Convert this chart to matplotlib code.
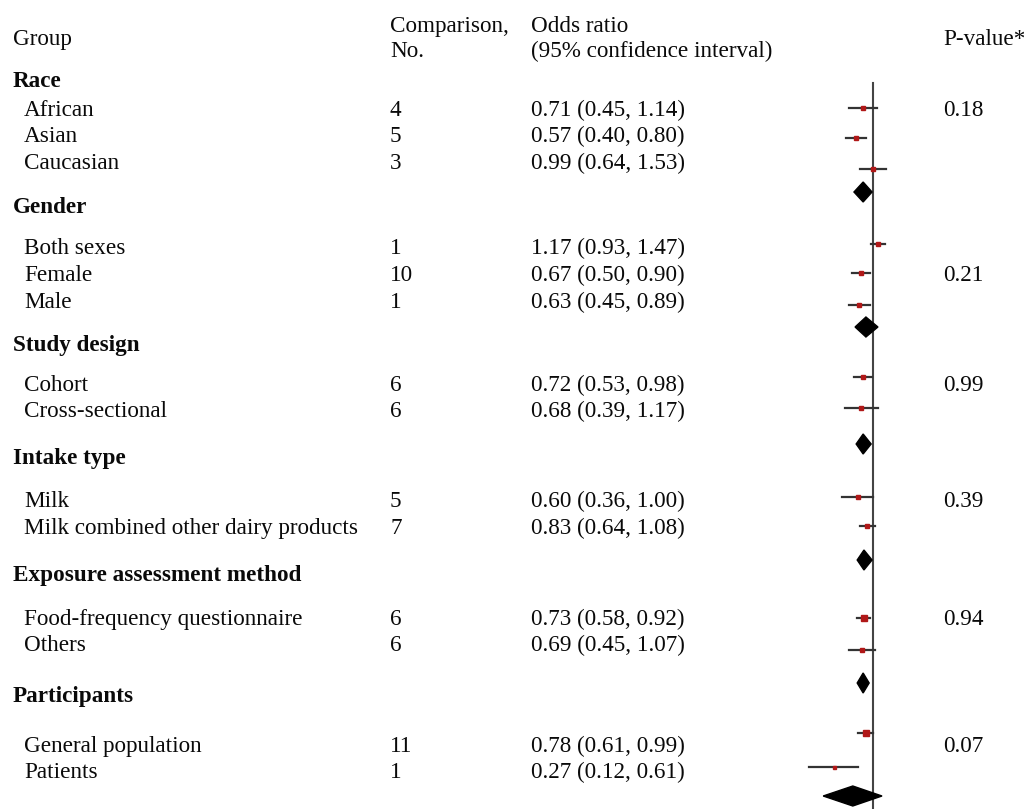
import numpy as np
import matplotlib
matplotlib.use("Agg")
import matplotlib.pyplot as plt
from matplotlib.patches import Polygon

plt.rcParams['font.family'] = ['Liberation Serif', 'DejaVu Serif']

groups = ["Race", "Gender", "Study design", "Intake type",
          "Exposure assessment method", "Participants"]
subgroups = [
    ["African", "Asian", "Caucasian"],
    ["Both sexes", "Female", "Male"],
    ["Cohort", "Cross-sectional"],
    ["Milk", "Milk combined other dairy products"],
    ["Food-frequency questionnaire", "Others"],
    ["General population", "Patients"],
]
comparisons = [[4, 5, 3], [1, 10, 1], [6, 6], [5, 7], [6, 6], [11, 1]]
odds = [[0.71, 0.57, 0.99], [1.17, 0.67, 0.63], [0.72, 0.68], [0.60, 0.83],
        [0.73, 0.69], [0.78, 0.27]]
lower = [[0.45, 0.40, 0.64], [0.93, 0.50, 0.45], [0.53, 0.39], [0.36, 0.64],
         [0.58, 0.45], [0.61, 0.12]]
upper = [[1.14, 0.80, 1.53], [1.47, 0.90, 0.89], [0.98, 1.17], [1.00, 1.08],
         [0.92, 1.07], [0.99, 0.61]]
p_values = ["0.18", "0.21", "0.99", "0.39", "0.94", "0.07"]
p_row = [0, 1, 0, 0, 0, 0]  # which subgroup row carries the p-value

# pooled estimates (diamonds)
pooled_or = [0.72, 0.79, 0.72, 0.74, 0.72, 0.51]
pooled_lo = [0.53, 0.55, 0.57, 0.59, 0.59, 0.19]
pooled_hi = [0.97, 1.18, 0.94, 0.97, 0.88, 1.35]

# relative square sizes (study weight)
weights = [[5, 5, 5], [5, 5, 5], [5, 5], [5, 5], [6, 5], [6, 3]]

# layout (pixel rows)
W, H = 1024, 809
group_y = [80, 206, 344, 457, 574, 695]
row_y = [[109, 135, 162], [247, 274, 301], [384, 410], [500, 527], [618, 644], [745, 771]]
point_y = [[108, 138, 169], [244, 273, 305], [377, 408], [497, 526], [618, 650], [733, 767]]
diamond_y = [192, 327, 444, 560, 683, 796]

fig = plt.figure(figsize=(W / 100, H / 100), dpi=100)
tx = fig.add_axes([0, 0, 1, 1])
tx.set_xlim(0, W)
tx.set_ylim(H, 0)
tx.axis('off')

fs = 16.7
off = 7  # baseline offset from visual centre

def put(x, y, s, **kw):
    tx.text(x, y + off, s, fontsize=fs, va='baseline', ha='left', color='#0a0a0a', **kw)

put(13, 38, "Group")
put(390, 25, "Comparison,")
put(390, 50, "No.")
put(531, 25, "Odds ratio")
put(531, 50, "(95% confidence interval)")
put(943, 38, "P-value*")

for g in range(len(groups)):
    put(13, group_y[g], groups[g], fontweight='bold')
    for i, name in enumerate(subgroups[g]):
        y = row_y[g][i]
        put(24, y, name)
        put(390, y, str(comparisons[g][i]))
        put(531, y, f"{odds[g][i]:.2f} ({lower[g][i]:.2f}, {upper[g][i]:.2f})")
    put(943, row_y[g][p_row[g]], p_values[g])

# forest panel on a log scale, OR = 1 at x = 873 px, ~30 px per log unit
fx0, fx1 = 790, 900
ax = fig.add_axes([fx0 / W, 0, (fx1 - fx0) / W, 1])
ax.set_xscale('log')
ax.set_xlim(np.exp((fx0 - 873) / 30), np.exp((fx1 - 873) / 30))
ax.set_ylim(H, 0)
ax.axis('off')

ax.plot([1, 1], [83, H], color='#444444', lw=1.5, zorder=1)

for g in range(len(groups)):
    for i in range(len(subgroups[g])):
        y = point_y[g][i]
        ax.plot([lower[g][i], upper[g][i]], [y, y], color='#333333', lw=1.6, zorder=2)
        ax.plot(odds[g][i], y, marker='s', color='#b01818', ms=weights[g][i] * 0.72,
                mec='#b01818', zorder=3)
    yc = diamond_y[g]
    h = 10
    dia = Polygon([[pooled_lo[g], yc], [pooled_or[g], yc - h],
                   [pooled_hi[g], yc], [pooled_or[g], yc + h]],
                  closed=True, color='black', zorder=3)
    ax.add_patch(dia)

fig.savefig("out.png", dpi=100)
